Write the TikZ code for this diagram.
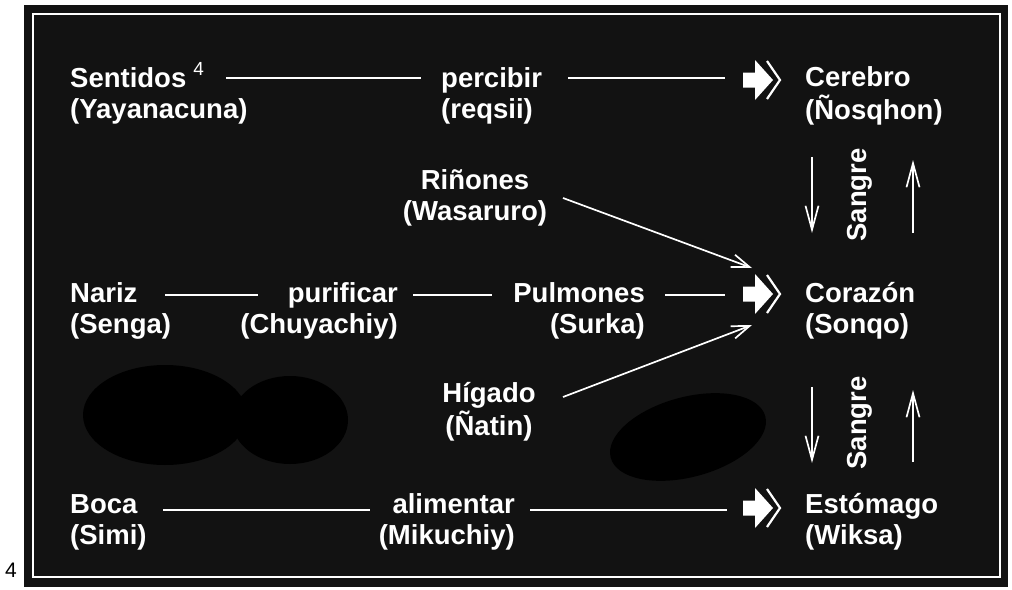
\documentclass[tikz,border=0pt]{standalone}
\usepackage{fontspec}
\setmainfont{Liberation Sans}
\usetikzlibrary{arrows.meta}
\definecolor{bg}{RGB}{18,18,18}
\newcommand\twol[2]{\begin{tabular}[t]{@{}l@{}}#1\\#2\end{tabular}}
\newcommand\twor[2]{\begin{tabular}[t]{@{}r@{}}#1\\#2\end{tabular}}
\newcommand\twoc[2]{\begin{tabular}[t]{@{}c@{}}#1\\#2\end{tabular}}
\tikzset{
  lbl/.style={text=white,font=\fontsize{27.5}{31}\selectfont\bfseries,inner sep=0pt},
  conn/.style={white,line width=2pt},
  thinarr/.style={white,line width=1.7pt,-{Straight Barb[length=18pt,width=13pt]}},
  bloodarr/.style={white,line width=1.7pt,-{Straight Barb[length=24pt,width=13pt]}},
  fatarrow/.pic={
    \fill[white] (-17,-7.5) -- (-5,-7.5) -- (-5,-20) -- (13,0) -- (-5,20) -- (-5,7.5) -- (-17,7.5) -- cycle;
    \draw[white,line width=2.2pt] (7,-19) -- (20,0) -- (7,19);
  }
}
\begin{document}
\begin{tikzpicture}[x=1pt,y=-1pt]
\useasboundingbox (0,0) rectangle (1012,589);
% frame
\fill[bg] (24,5) rectangle (1008,587);
\draw[white,line width=2.5pt] (33,14) rectangle (1000,577);
% dark blotches
\fill[black] (165,415) ellipse [x radius=82, y radius=50];
\fill[black] (290,420) ellipse [x radius=58, y radius=44];
\fill[black,rotate around={15:(688,437)}] (688,437) ellipse [x radius=80, y radius=40];
% footnote number
\node[anchor=base west,inner sep=0pt,font=\fontsize{21}{21}\selectfont] (fn) at (5,577) {4};
% labels
\node[lbl,anchor=base west] (sentidos) at (70,87) {\twol{Sentidos\hspace{7pt}\raisebox{12pt}{\fontsize{19}{19}\selectfont\mdseries 4}}{(Yayanacuna)}};
\node[lbl,anchor=base west] (percibir) at (441,87) {\twol{percibir}{(reqsii)}};
\node[lbl,anchor=base west] (cerebro) at (805,86) {\twol{Cerebro}{(Ñosqhon)}};
\node[lbl,anchor=base] (rinones) at (475,189) {\twoc{Riñones}{(Wasaruro)}};
\node[lbl,anchor=base west] (nariz) at (70,302) {\twol{Nariz}{(Senga)}};
\node[lbl,anchor=base east] (purificar) at (398,302) {\twor{purificar}{(Chuyachiy)}};
\node[lbl,anchor=base east] (pulmones) at (645,302) {\twor{Pulmones}{(Surka)}};
\node[lbl,anchor=base west] (corazon) at (805,302) {\twol{Corazón}{(Sonqo)}};
\node[lbl,anchor=base] (higado) at (489,402) {\twoc{Hígado}{(Ñatin)}};
\node[lbl,anchor=base west] (boca) at (70,513) {\twol{Boca}{(Simi)}};
\node[lbl,anchor=base east] (alimentar) at (515,513) {\twor{alimentar}{(Mikuchiy)}};
\node[lbl,anchor=base west] (estomago) at (805,513) {\twol{Estómago}{(Wiksa)}};
\node[lbl,rotate=90] (sangre1) at (860,195) {Sangre};
\node[lbl,rotate=90] (sangre2) at (860,423) {Sangre};
% fat arrows
\pic (fa1) at (760,80) {fatarrow};
\pic (fa2) at (760,294) {fatarrow};
\pic (fa3) at (760,508) {fatarrow};
% connector end points
\coordinate (r1a) at (226,78);  \coordinate (r1b) at (421,78);
\coordinate (r1c) at (568,78);  \coordinate (r1d) at (725,78);
\coordinate (r2a) at (165,295); \coordinate (r2b) at (258,295);
\coordinate (r2c) at (413,295); \coordinate (r2d) at (492,295);
\coordinate (r2e) at (665,295); \coordinate (r2f) at (725,295);
\coordinate (r3a) at (163,510); \coordinate (r3b) at (370,510);
\coordinate (r3c) at (530,510); \coordinate (r3d) at (727,510);
\coordinate (rinS) at (563,198); \coordinate (rinE) at (752,268);
\coordinate (higS) at (563,397); \coordinate (higE) at (752,325);
\coordinate (d1a) at (812,157); \coordinate (d1b) at (812,233);
\coordinate (u1a) at (913,233); \coordinate (u1b) at (913,160);
\coordinate (d2a) at (812,387); \coordinate (d2b) at (812,463);
\coordinate (u2a) at (913,462); \coordinate (u2b) at (913,390);
% connectors
\draw[conn] (r1a) -- (r1b);
\draw[conn] (r1c) -- (r1d);
\draw[conn] (r2a) -- (r2b);
\draw[conn] (r2c) -- (r2d);
\draw[conn] (r2e) -- (r2f);
\draw[conn] (r3a) -- (r3b);
\draw[conn] (r3c) -- (r3d);
\draw[thinarr] (rinS) -- (rinE);
\draw[thinarr] (higS) -- (higE);
\draw[bloodarr] (d1a) -- (d1b);
\draw[bloodarr] (u1a) -- (u1b);
\draw[bloodarr] (d2a) -- (d2b);
\draw[bloodarr] (u2a) -- (u2b);
\end{tikzpicture}
\end{document}
